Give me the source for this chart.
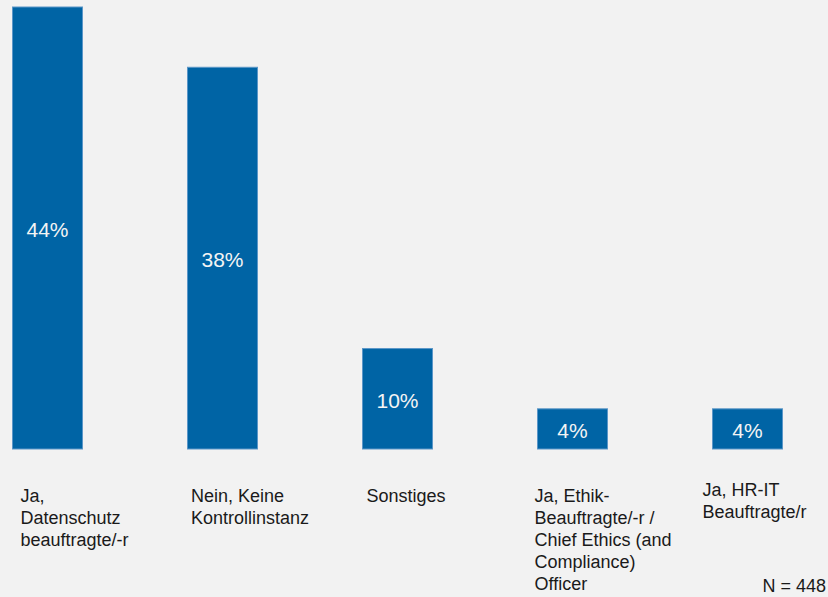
<!DOCTYPE html>
<html>
<head>
<meta charset="utf-8">
<script src="https://cdn.jsdelivr.net/npm/d3@7"></script>
<style>
  html, body { margin: 0; padding: 0; background: #f2f2f2; }
  svg { display: block; font-family: "Liberation Sans", Arial, sans-serif; }
</style>
</head>
<body>
<div id="chart"></div>
<script>
// data
var categories = [
  ['Ja,', 'Datenschutz', 'beauftragte/-r'],
  ['Nein, Keine', 'Kontrollinstanz'],
  ['Sonstiges'],
  ['Ja, Ethik-', 'Beauftragte/-r /', 'Chief Ethics (and', 'Compliance)', 'Officer'],
  ['Ja, HR-IT', 'Beauftragte/r']
]
var values = [44, 38, 10, 4, 4]
var sampleNote = 'N = 448'

// small layout nudges for the category text boxes
var labelDx = [8, 3.5, 4, -3, -10]
var labelDy = [0, 0, 0, 0, -6]

var width = 828
var height = 597

var svg = d3
  .select('#chart')
  .append('svg')
  .attr('width', width)
  .attr('height', height)

svg.append('rect')
  .attr('width', width)
  .attr('height', height)
  .attr('fill', '#f2f2f2')

var keys = categories.map((d, i) => 'c' + i)

var x = d3
  .scaleBand()
  .domain(keys)
  .range([12.5, 782.5])
  .paddingInner(0.6)
  .paddingOuter(0)

var y = d3
  .scaleLinear()
  .domain([0, 44])
  .range([449, 7])

var rows = values.map((v, i) => ({ key: keys[i], value: v, lines: categories[i], i: i }))

svg
  .selectAll('.bar')
  .data(rows)
  .enter()
  .append('rect')
  .attr('class', 'bar')
  .attr('x', d => x(d.key))
  .attr('y', d => y(d.value))
  .attr('width', x.bandwidth())
  .attr('height', d => y(0) - y(d.value))
  .attr('fill', '#0064a5')
  .attr('stroke', '#5b96c8')
  .attr('stroke-width', 1)

svg
  .selectAll('.value-label')
  .data(rows)
  .enter()
  .append('text')
  .attr('class', 'value-label')
  .attr('x', d => x(d.key) + x.bandwidth() / 2)
  .attr('y', d => (y(d.value) + y(0)) / 2 + 9)
  .attr('text-anchor', 'middle')
  .attr('font-size', 21)
  .attr('fill', '#f4f4f4')
  .text(d => d.value + '%')

var catText = svg
  .selectAll('.cat-label')
  .data(rows)
  .enter()
  .append('text')
  .attr('class', 'cat-label')
  .attr('font-size', 18)
  .attr('fill', '#1a1a1a')

catText
  .selectAll('tspan')
  .data(d => d.lines.map((t, j) => ({ t: t, j: j, d: d })))
  .enter()
  .append('tspan')
  .attr('x', s => x(s.d.key) + labelDx[s.d.i])
  .attr('y', s => 501.5 + labelDy[s.d.i] + s.j * 22)
  .text(s => s.t)

svg
  .append('text')
  .attr('x', 826)
  .attr('y', 592)
  .attr('text-anchor', 'end')
  .attr('font-size', 18)
  .attr('fill', '#1a1a1a')
  .text(sampleNote)
</script>
</body>
</html>
